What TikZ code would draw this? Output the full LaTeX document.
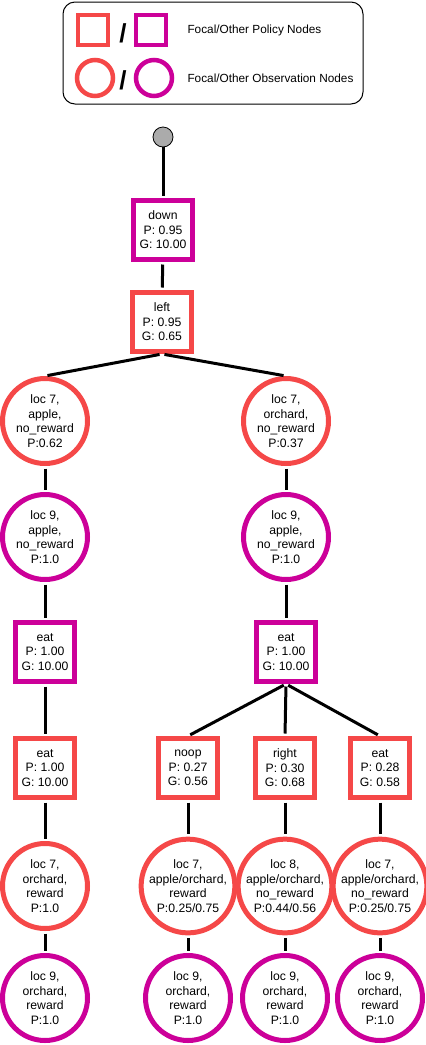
\documentclass[tikz,border=0pt]{standalone}
\usepackage{fontspec}
\setmainfont{Liberation Sans}
\usetikzlibrary{positioning}
\definecolor{cfocal}{RGB}{245,72,72}
\definecolor{cautre}{RGB}{204,0,153}
\definecolor{cracine}{gray}{0.67}

\begin{document}
\begin{tikzpicture}[x=1pt, y=-1pt,
    pol/.style={draw=cfocal, line width=5pt, fill=white,
                minimum width=59pt, minimum height=59pt, inner sep=0pt,
                align=center, font=\fontsize{12.2}{14.5}\selectfont},
    polautre/.style={pol, draw=cautre},
    obs/.style={pol, circle, minimum size=85pt},
    obsautre/.style={obs, draw=cautre},
    legtxt/.style={anchor=west, font=\fontsize{11.8}{13}\selectfont},
    barre/.style={font=\bfseries\fontsize{26}{26}\selectfont, inner sep=0pt},
    lien/.style={line width=3pt, shorten <=2.5pt, shorten >=2.5pt}]

  \useasboundingbox (0,0) rectangle (426,1045);

  % legende
  \node[draw, line width=1pt, rounded corners=12pt,
        minimum width=300pt, minimum height=102pt] (leg) at (213,53) {};
  \node[pol, line width=4.5pt, minimum size=30pt] (lp1) at (93,30) {};
  \node[polautre, line width=4.5pt, minimum size=30pt] (lp2) at (151,30) {};
  \node[obs, line width=4.5pt, minimum size=36pt] (lo1) at (95,78) {};
  \node[obsautre, line width=4.5pt, minimum size=36pt] (lo2) at (154,78) {};
  \node[barre] at (123,33) {/};
  \node[barre] at (123,80) {/};
  \node[legtxt] at (184,30) {Focal/Other Policy Nodes};
  \node[legtxt] at (184,78) {Focal/Other Observation Nodes};

  % arbre
  \node[circle, draw, fill=cracine, line width=0.8pt, minimum size=20pt] (r) at (163,137) {};
  \node[polautre] (a) at (163,230) {down\\P: 0.95\\G: 10.00};
  \node[pol] (b) at (162,322) {left\\P: 0.95\\G: 0.65};

  \node[obs] (o1) at (45,421) {loc 7,\\apple,\\no\_reward\\P:0.62};
  \node[obs] (o2) at (286,421) {loc 7,\\orchard,\\no\_reward\\P:0.37};
  \node[obsautre] (o3) at (45,537) {loc 9,\\apple,\\no\_reward\\P:1.0};
  \node[obsautre] (o4) at (286,537) {loc 9,\\apple,\\no\_reward\\P:1.0};

  \node[polautre] (e1) at (45,652) {eat\\P: 1.00\\G: 10.00};
  \node[polautre] (e2) at (286,652) {eat\\P: 1.00\\G: 10.00};

  \node[pol] (f1) at (45,768) {eat\\P: 1.00\\G: 10.00};
  \node[pol] (f2) at (188,768) {noop\\P: 0.27\\G: 0.56};
  \node[pol] (f3) at (285,768) {right\\P: 0.30\\G: 0.68};
  \node[pol] (f4) at (380,768) {eat\\P: 0.28\\G: 0.58};

  \node[obs] (g1) at (45,886) {loc 7,\\orchard,\\reward\\P:1.0};
  \node[obs] (g2) at (188,886) {loc 7,\\apple/orchard,\\reward\\P:0.25/0.75};
  \node[obs] (g3) at (285,886) {loc 8,\\apple/orchard,\\no\_reward\\P:0.44/0.56};
  \node[obs] (g4) at (380,886) {loc 7,\\apple/orchard,\\no\_reward\\P:0.25/0.75};

  \node[obsautre] (h1) at (45,998) {loc 9,\\orchard,\\reward\\P:1.0};
  \node[obsautre] (h2) at (188,998) {loc 9,\\orchard,\\reward\\P:1.0};
  \node[obsautre] (h3) at (285,998) {loc 9,\\orchard,\\reward\\P:1.0};
  \node[obsautre] (h4) at (380,998) {loc 9,\\orchard,\\reward\\P:1.0};

  \draw[lien, shorten <=0pt] (r) -- (a);
  \draw[lien] (a) -- (b);
  \draw[lien] (b.south) -- (o1.north);
  \draw[lien] (b.south) -- (o2.north);
  \draw[lien] (o1) -- (o3);
  \draw[lien] (o2) -- (o4);
  \draw[lien] (o3) -- (e1);
  \draw[lien] (o4) -- (e2);
  \draw[lien] (e1) -- (f1);
  \draw[lien] (e2.south) -- (f2.north);
  \draw[lien] (e2.south) -- (f3.north);
  \draw[lien] (e2.south) -- (f4.north);
  \draw[lien] (f1) -- (g1);
  \draw[lien] (f2) -- (g2);
  \draw[lien] (f3) -- (g3);
  \draw[lien] (f4) -- (g4);
  \draw[lien] (g1) -- (h1);
  \draw[lien] (g2) -- (h2);
  \draw[lien] (g3) -- (h3);
  \draw[lien] (g4) -- (h4);
\end{tikzpicture}
\end{document}
